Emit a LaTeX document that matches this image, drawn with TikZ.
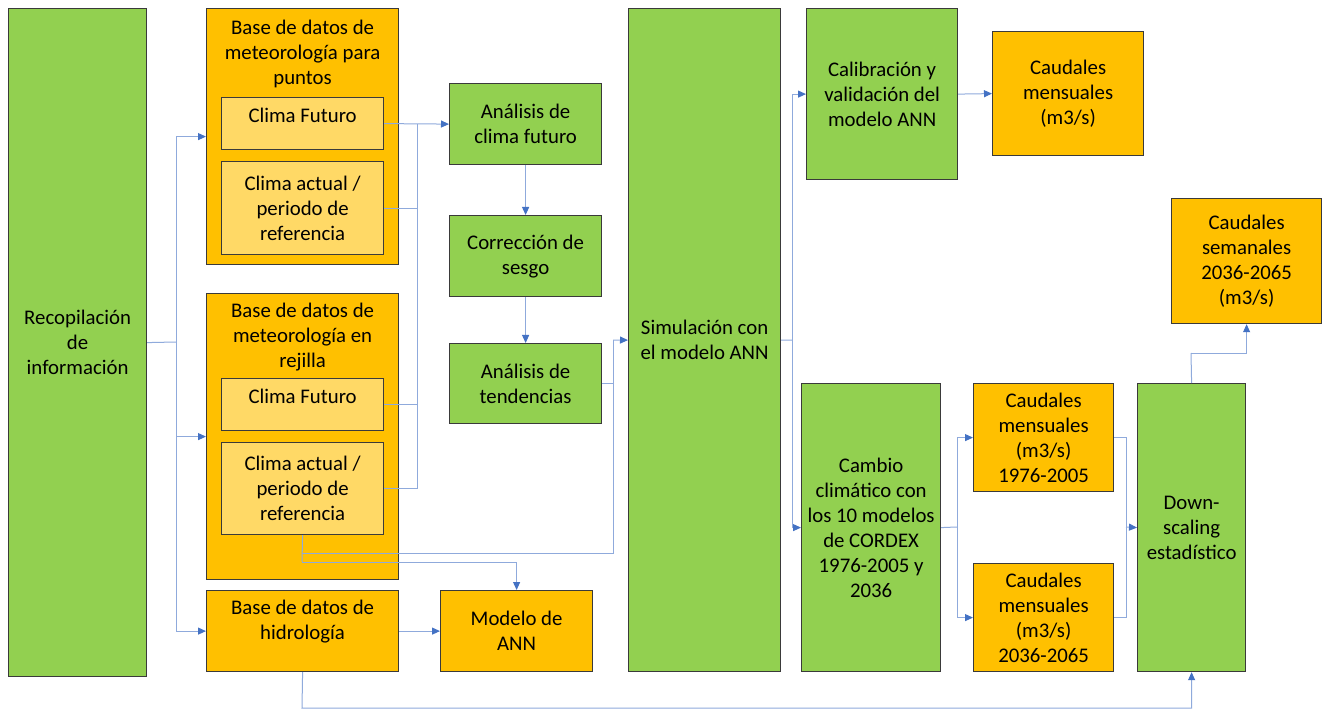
\documentclass[tikz,border=0pt]{standalone}
\usepackage{fontspec}
\setmainfont{Carlito}
\usetikzlibrary{arrows.meta}
\definecolor{og}{HTML}{FFC000}
\definecolor{gr}{HTML}{92D050}
\definecolor{lo}{HTML}{FFD966}
\definecolor{bd}{HTML}{3A3A3A}
\definecolor{ln}{HTML}{8FAADC}
\definecolor{tip}{HTML}{4472C4}
\tikzset{
 fnt/.style={font=\fontsize{20.8}{25}\selectfont},
 box/.style={draw=bd, line width=1.2pt, anchor=north west, inner sep=2pt, align=center, fnt},
 gbox/.style={box, fill=gr},
 obox/.style={box, fill=og},
 lbox/.style={box, fill=lo},
 txt/.style={anchor=north, inner sep=0pt, align=center, fnt},
 conn/.style={draw=ln, line width=1pt},
 arr/.style={conn, -{Triangle[length=8pt,width=7pt,color=tip]}},
}
\begin{document}
\begin{tikzpicture}[x=1pt,y=-1pt]
\fill[white] (0,0) rectangle (1328,711);
\useasboundingbox (0,0) rectangle (1328,711);

% nodes
\node[gbox, minimum width=138pt, minimum height=668pt] (rec) at (8,8) {Recopilación\\de\\información};

\node[obox, minimum width=192pt, minimum height=256pt] (bpu) at (206,8) {};
\node[txt] (bput) at ([yshift=-12pt]bpu.north) {Base de datos de\\meteorología para\\puntos};
\node[lbox, minimum width=162pt, minimum height=52pt, text depth=16pt] (cfp) at (221,97) {Clima Futuro};
\node[lbox, minimum width=162pt, minimum height=93pt] (cap) at (221,161) {Clima actual /\\periodo de\\referencia};

\node[obox, minimum width=192pt, minimum height=286pt] (bre) at (206,293) {};
\node[txt] (bret) at ([yshift=-10pt]bre.north) {Base de datos de\\meteorología en\\rejilla};
\node[lbox, minimum width=162pt, minimum height=52pt, text depth=16pt] (cfr) at (221,378) {Clima Futuro};
\node[lbox, minimum width=162pt, minimum height=92pt] (car) at (221,442) {Clima actual /\\periodo de\\referencia};

\node[obox, minimum width=192pt, minimum height=81pt] (hid) at (206,590) {};
\node[txt] (hidt) at ([yshift=-10pt]hid.north) {Base de datos de\\hidrología};
\node[obox, minimum width=152pt, minimum height=81pt] (mod) at (440,590) {Modelo de\\ANN};

\node[gbox, minimum width=152pt, minimum height=81pt] (acf) at (449,83) {Análisis de\\clima futuro};
\node[gbox, minimum width=152pt, minimum height=81pt] (cds) at (449,215) {Corrección de\\sesgo};
\node[gbox, minimum width=152pt, minimum height=80pt] (ate) at (449,343) {Análisis de\\tendencias};

\node[gbox, minimum width=152pt, minimum height=663pt] (sim) at (628,8) {Simulación con\\el modelo ANN};

\node[gbox, minimum width=151pt, minimum height=171pt] (cal) at (806,8) {Calibración y\\validación del\\modelo ANN};
\node[obox, minimum width=151pt, minimum height=124pt] (cm1) at (992,31) {Caudales\\mensuales\\(m3/s)};

\node[gbox, minimum width=139pt, minimum height=288pt] (cc) at (801,383) {Cambio\\climático con\\los 10 modelos\\de CORDEX\\1976-2005 y\\2036};
\node[obox, minimum width=140pt, minimum height=108pt] (c76) at (973,383) {Caudales\\mensuales\\(m3/s)\\1976-2005};
\node[obox, minimum width=140pt, minimum height=108pt] (c36) at (973,563) {Caudales\\mensuales\\(m3/s)\\2036-2065};
\node[gbox, minimum width=108pt, minimum height=288pt] (dsc) at (1137,383) {Down-\\scaling\\estadístico};
\node[obox, minimum width=150pt, minimum height=125pt] (csm) at (1171,198) {Caudales\\semanales\\2036-2065\\(m3/s)};

% junctions
\coordinate (j1) at (176,342);
\coordinate (j2) at (417,124);
\coordinate (j3) at (613,340);
\coordinate (j4) at (302,553);
\coordinate (j5) at (302,562);
\coordinate (j6) at (302,708);
\coordinate (j7) at (792,340);
\coordinate (j8) at (957,527);
\coordinate (j9) at (1126,527);
\coordinate (j10) at (1191,353);

% connectors
\draw[conn] (rec.east) -- (j1);
\draw[arr] (j1) |- (bpu.west);
\draw[arr] (j1) |- (bre.west);
\draw[arr] (j1) |- (hid.west);

\draw[arr] (cfp.east) -- (acf.west);
\draw[conn] (cap.east) -| (j2);
\draw[conn] (cfr.east) -| (j2);
\draw[conn] (car.east) -| (j2);

\draw[arr] (acf.south) -- (cds.north);
\draw[arr] (cds.south) -- (ate.north);
\draw[conn] (ate.east) -| (j3);
\draw[arr] (j3) -- (sim.west);

\draw[conn] (car.south) -- (j5);
\draw[conn] (j4) -| (j3);
\draw[arr] (j5) -| (mod.north);

\draw[arr] (hid.east) -- (mod.west);
\draw[arr] (hid.south) -- (j6) -| (dsc.south);

\draw[conn] (sim.east) -- (j7);
\draw[arr] (j7) |- (cal.west);
\draw[arr] (j7) |- (cc.west);
\draw[arr] (cal.east) -- (cm1.west);

\draw[conn] (cc.east) -- (j8);
\draw[arr] (j8) |- (c76.west);
\draw[arr] (j8) |- (c36.west);
\draw[conn] (c76.east) -| (j9);
\draw[conn] (c36.east) -| (j9);
\draw[arr] (j9) -- (dsc.west);

\draw[conn] (dsc.north) -- (j10);
\draw[arr] (j10) -| (csm.south);
\end{tikzpicture}
\end{document}
